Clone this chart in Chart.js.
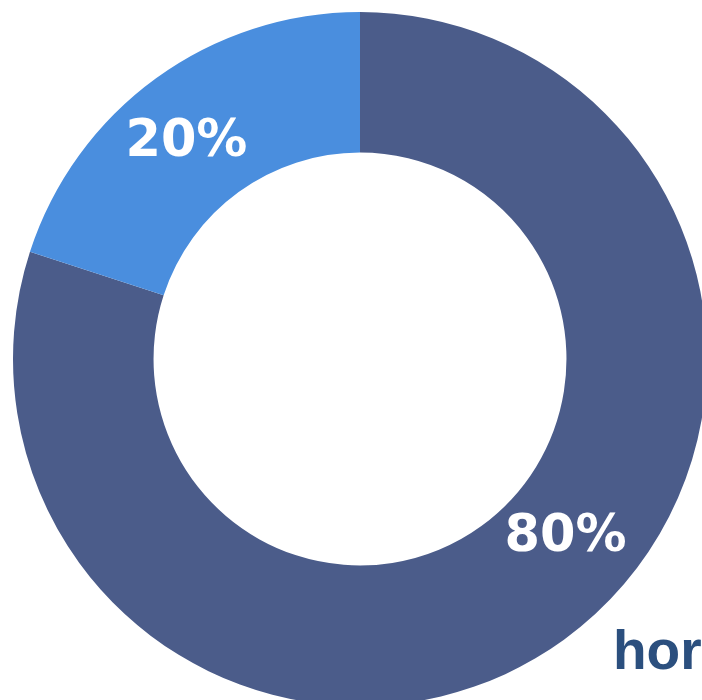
<!DOCTYPE html>
<html>
<head>
<meta charset="utf-8">
<script src="https://cdn.jsdelivr.net/npm/chart.js@4"></script>
<style>
html,body{margin:0;padding:0;background:#fff;overflow:hidden;width:702px;height:700px;}
#wrap{position:absolute;left:0;top:-1px;width:720px;height:720px;}
#brand{position:absolute;left:613px;top:618px;font-family:"Liberation Sans",Arial,sans-serif;font-weight:bold;font-size:55px;color:#2b4f7e;white-space:nowrap;}
</style>
</head>
<body>
<div id="wrap"><canvas id="c" width="720" height="720"></canvas></div>
<div id="brand">hor</div>
<script>
const categories = ["A", "B"];
const values = [80, 20];
const valueLabels = ["80%", "20%"];
const colors = ["#4b5c8a", "#4a8ede"];
// label placement inside each slice: fraction along the arc and across the ring
const labelArcFraction = [0.452, 0.471];
const labelRingFraction = [0.445, 0.533];

const labelPlugin = {
  id: 'sliceLabels',
  afterDatasetsDraw(chart) {
    const ctx = chart.ctx;
    const meta = chart.getDatasetMeta(0);
    const size = 51;
    ctx.save();
    ctx.fillStyle = '#ffffff';
    ctx.font = 'bold ' + size + 'px "DejaVu Sans", sans-serif';
    ctx.textAlign = 'center';
    ctx.textBaseline = 'alphabetic';
    meta.data.forEach((arc, i) => {
      const p = arc.getProps(['x','y','startAngle','endAngle','innerRadius','outerRadius'], true);
      const a = p.startAngle + (p.endAngle - p.startAngle) * labelArcFraction[i];
      const r = p.innerRadius + (p.outerRadius - p.innerRadius) * labelRingFraction[i];
      ctx.fillText(valueLabels[i], p.x + r * Math.cos(a), p.y + r * Math.sin(a) + size * 0.729 / 2);
    });
    ctx.restore();
  }
};

new Chart(document.getElementById('c'), {
  type: 'doughnut',
  data: {
    labels: categories,
    datasets: [{
      data: values,
      backgroundColor: colors,
      borderWidth: 0
    }]
  },
  options: {
    responsive: false,
    animation: false,
    cutout: '59.5%',
    layout: { padding: 13 },
    plugins: {
      legend: { display: false },
      tooltip: { enabled: false }
    }
  },
  plugins: [labelPlugin]
});
</script>
</body>
</html>
